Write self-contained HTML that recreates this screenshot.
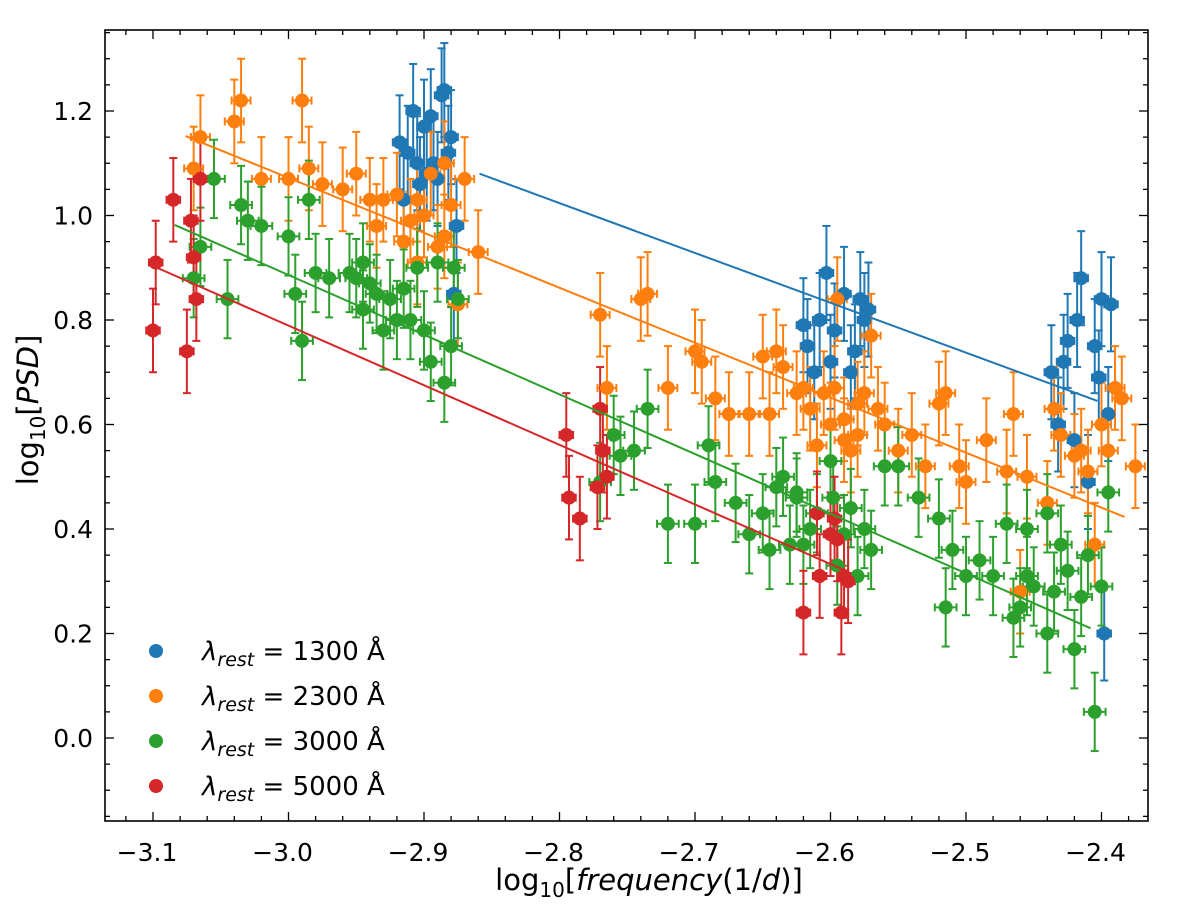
<!DOCTYPE html>
<html><head><meta charset="utf-8"><style>
body{margin:0;background:#fff;}
svg{display:block;font-family:"DejaVu Sans","Liberation Sans",sans-serif;}
</style></head><body>
<svg id="chart" width="1200" height="909" viewBox="0 0 1200 909" xmlns="http://www.w3.org/2000/svg">
<g id="errs"></g><g id="pts"></g><g id="lines"></g><g id="axes"></g>
</svg>
<script>
const blueX=[-2.918,-2.915,-2.912,-2.908,-2.905,-2.903,-2.9,-2.898,-2.895,-2.893,-2.89,-2.887,-2.885,-2.882,-2.88,-2.878,-2.876,-2.62,-2.617,-2.612,-2.608,-2.603,-2.6,-2.597,-2.59,-2.585,-2.582,-2.578,-2.575,-2.572,-2.437,-2.432,-2.428,-2.425,-2.42,-2.418,-2.415,-2.41,-2.405,-2.402,-2.4,-2.398,-2.395,-2.393];
const blueY=[1.14,1.03,1.12,1.2,1.1,1.06,1.17,1.08,1.19,1.1,1.07,1.23,1.24,1.12,1.15,0.85,0.98,0.79,0.75,0.7,0.8,0.89,0.72,0.78,0.85,0.7,0.74,0.84,0.8,0.82,0.7,0.6,0.72,0.76,0.57,0.8,0.88,0.49,0.75,0.69,0.84,0.2,0.62,0.83];
const orangeX=[-3.07,-3.065,-3.04,-3.035,-3.02,-3.0,-2.99,-2.985,-2.975,-2.96,-2.95,-2.94,-2.935,-2.93,-2.92,-2.915,-2.91,-2.905,-2.9,-2.895,-2.89,-2.885,-2.88,-2.875,-2.87,-2.86,-2.905,-2.885,-2.77,-2.765,-2.74,-2.735,-2.72,-2.7,-2.695,-2.685,-2.675,-2.66,-2.65,-2.645,-2.64,-2.635,-2.625,-2.62,-2.615,-2.61,-2.6,-2.597,-2.595,-2.59,-2.585,-2.58,-2.575,-2.57,-2.565,-2.56,-2.55,-2.54,-2.53,-2.52,-2.515,-2.505,-2.5,-2.485,-2.47,-2.465,-2.46,-2.455,-2.44,-2.435,-2.43,-2.42,-2.415,-2.41,-2.405,-2.4,-2.395,-2.39,-2.385,-2.375,-2.59,-2.605,-2.58];
const orangeY=[1.09,1.15,1.18,1.22,1.07,1.07,1.22,1.09,1.06,1.05,1.08,1.03,0.98,1.03,1.04,0.95,0.99,1.03,1.0,1.08,0.94,1.1,1.02,0.83,1.07,0.93,0.91,0.96,0.81,0.67,0.84,0.85,0.67,0.74,0.72,0.65,0.62,0.62,0.73,0.62,0.74,0.71,0.66,0.67,0.63,0.56,0.6,0.67,0.84,0.61,0.55,0.64,0.66,0.77,0.63,0.6,0.55,0.58,0.52,0.64,0.66,0.52,0.49,0.57,0.51,0.62,0.28,0.5,0.45,0.63,0.58,0.54,0.55,0.51,0.37,0.6,0.55,0.67,0.65,0.52,0.57,0.66,0.58];
const greenX=[-3.07,-3.065,-3.055,-3.045,-3.035,-3.03,-3.02,-3.0,-2.995,-2.99,-2.985,-2.98,-2.97,-2.955,-2.95,-2.945,-2.94,-2.935,-2.93,-2.925,-2.92,-2.915,-2.91,-2.905,-2.9,-2.895,-2.89,-2.885,-2.88,-2.878,-2.875,-2.945,-2.77,-2.76,-2.755,-2.745,-2.735,-2.72,-2.7,-2.69,-2.685,-2.67,-2.66,-2.65,-2.645,-2.64,-2.635,-2.63,-2.625,-2.62,-2.615,-2.61,-2.6,-2.598,-2.595,-2.59,-2.585,-2.58,-2.575,-2.57,-2.56,-2.55,-2.535,-2.52,-2.515,-2.51,-2.5,-2.49,-2.48,-2.47,-2.465,-2.46,-2.455,-2.45,-2.44,-2.435,-2.43,-2.425,-2.42,-2.415,-2.41,-2.405,-2.4,-2.395,-2.44,-2.455,-2.625];
const greenY=[0.88,0.94,1.07,0.84,1.02,0.99,0.98,0.96,0.85,0.76,1.03,0.89,0.88,0.89,0.88,0.82,0.87,0.85,0.78,0.84,0.8,0.86,0.8,0.9,0.78,0.72,0.91,0.68,0.75,0.9,0.84,0.91,0.49,0.58,0.54,0.55,0.63,0.41,0.41,0.56,0.49,0.45,0.39,0.43,0.36,0.48,0.5,0.37,0.47,0.37,0.4,0.43,0.53,0.46,0.33,0.39,0.44,0.31,0.4,0.36,0.52,0.52,0.46,0.42,0.25,0.36,0.31,0.34,0.31,0.41,0.23,0.25,0.4,0.29,0.43,0.28,0.37,0.32,0.17,0.27,0.35,0.05,0.29,0.47,0.2,0.31,0.46];
const redX=[-3.1,-3.098,-3.085,-3.075,-3.072,-3.07,-3.068,-3.065,-2.795,-2.793,-2.785,-2.772,-2.77,-2.768,-2.765,-2.62,-2.61,-2.608,-2.6,-2.597,-2.595,-2.592,-2.59,-2.587];
const redY=[0.78,0.91,1.03,0.74,0.99,0.92,0.84,1.07,0.58,0.46,0.42,0.48,0.63,0.55,0.5,0.24,0.43,0.31,0.39,0.42,0.38,0.24,0.31,0.3];
const seriesYErr=[0.09,0.08,0.075,0.08];
const seriesXErr=[0.005,0.007,0.008,0.005];
const fitX0=[-2.859,-3.076,-3.084,-3.097];
const fitX1=[-2.403,-2.383,-2.408,-2.587];
const fitY0=[1.08,1.152,0.982,0.9];
const fitY1=[0.645,0.423,0.21,0.318];
const labels=["1300","2300","3000","5000"];
const xTicks=[-3.1,-3.0,-2.9,-2.8,-2.7,-2.6,-2.5,-2.4];
const yTicks=[0.0,0.2,0.4,0.6,0.8,1.0,1.2];
const colors=["#1f77b4","#ff7f0e","#2ca02c","#d62728"];
const names=["blue","orange","green","red"];
const L=105,R=1148,T=30,B=821;
const sx=v=>153+(v+3.1)*1355;
const sy=v=>738-v*522.5;
const NS="http://www.w3.org/2000/svg";
function mk(tag,attrs,parent){const e=document.createElementNS(NS,tag);for(const k in attrs)e.setAttribute(k,attrs[k]);parent.appendChild(e);return e;}
const errs=document.getElementById('errs'),pts=document.getElementById('pts'),lines=document.getElementById('lines'),axes=document.getElementById('axes');
const XS=[blueX,orangeX,greenX,redX],YS=[blueY,orangeY,greenY,redY];
for(let s=0;s<4;s++){
  const c=colors[s];
  for(let i=0;i<XS[s].length;i++){
    const x=sx(XS[s][i]),y=sy(YS[s][i]);
    const y1=sy(YS[s][i]+seriesYErr[s]),y2=sy(YS[s][i]-seriesYErr[s]);
    const x1=sx(XS[s][i]-seriesXErr[s]),x2=sx(XS[s][i]+seriesXErr[s]);
    const g=mk('g',{stroke:c,'stroke-width':2},errs);
    
    
    mk('line',{x1:x,x2:x,y1:y1,y2:y2},g);
    mk('line',{x1:x-4,x2:x+4,y1:y1,y2:y1},g);
    mk('line',{x1:x-4,x2:x+4,y1:y2,y2:y2},g);
    mk('line',{x1:x1,x2:x2,y1:y,y2:y},g);
    mk('line',{x1:x1,x2:x1,y1:y-4,y2:y+4},g);
    mk('line',{x1:x2,x2:x2,y1:y-4,y2:y+4},g);
    const p=mk('circle',{cx:x,cy:y,r:7,fill:c},pts);
    
    
  }
  const ln=mk('line',{x1:sx(fitX0[s]),y1:sy(fitY0[s]),x2:sx(fitX1[s]),y2:sy(fitY1[s]),stroke:c,'stroke-width':2},lines);
  
  
}
const fr=mk('rect',{x:L,y:T,width:R-L,height:B-T,fill:'none',stroke:'#000','stroke-width':1.6},axes);


for(let k=-3.14;k<=-2.36;k+=0.02){const v=Math.round(k*100)/100;const x=sx(v);if(x<L||x>R)continue;
  const major=Math.abs(Math.round(v*10)-v*10)<1e-6;const len=major?9:5;
  mk('line',{x1:x,x2:x,y1:B,y2:B-len,stroke:'#000','stroke-width':1.3},axes);
  mk('line',{x1:x,x2:x,y1:T,y2:T+len,stroke:'#000','stroke-width':1.3},axes);}
for(const v of xTicks){const t=mk('text',{x:sx(v)-6,y:B+40,'text-anchor':'middle','font-size':25,fill:'#000'},axes);t.textContent='\u2212'+Math.abs(v).toFixed(1);
  
  }
for(let k=-0.15;k<=1.4;k+=0.05){const v=Math.round(k*100)/100;const y=sy(v);if(y<T||y>B)continue;
  const major=Math.abs(Math.round(v*5)-v*5)<1e-6;const len=major?9:5;
  mk('line',{x1:L,x2:L+len,y1:y,y2:y,stroke:'#000','stroke-width':1.3},axes);
  mk('line',{x1:R,x2:R-len,y1:y,y2:y,stroke:'#000','stroke-width':1.3},axes);}
for(const v of yTicks){const t=mk('text',{x:L-12,y:sy(v)+9,'text-anchor':'end','font-size':25,fill:'#000'},axes);t.textContent=v.toFixed(1);
  
  }
for(let s=0;s<4;s++){const y=651+s*45;
  const d=mk('circle',{cx:156,cy:y,r:7,fill:colors[s]},axes);
  
  
  const t=mk('text',{x:202,y:y+9,'font-size':26,fill:'#000'},axes);
  
  
  t.innerHTML='<tspan font-style="italic">λ</tspan><tspan font-style="italic" font-size="19" dy="6">rest</tspan><tspan dy="-6"> = '+labels[s]+' Å</tspan>';}
</script>
<svg style="position:absolute;left:0;top:0" width="1200" height="909">
<text x="649" y="890" text-anchor="middle" font-size="29" font-family="DejaVu Sans,sans-serif">log<tspan font-size="20" dy="7">10</tspan><tspan dy="-7">[</tspan><tspan font-style="italic">frequency</tspan>(1/<tspan font-style="italic">d</tspan>)]</text>
<text transform="translate(38,410) rotate(-90)" text-anchor="middle" font-size="29" font-family="DejaVu Sans,sans-serif">log<tspan font-size="20" dy="7">10</tspan><tspan dy="-7">[</tspan><tspan font-style="italic">PSD</tspan>]</text>
</svg>
</body></html>
